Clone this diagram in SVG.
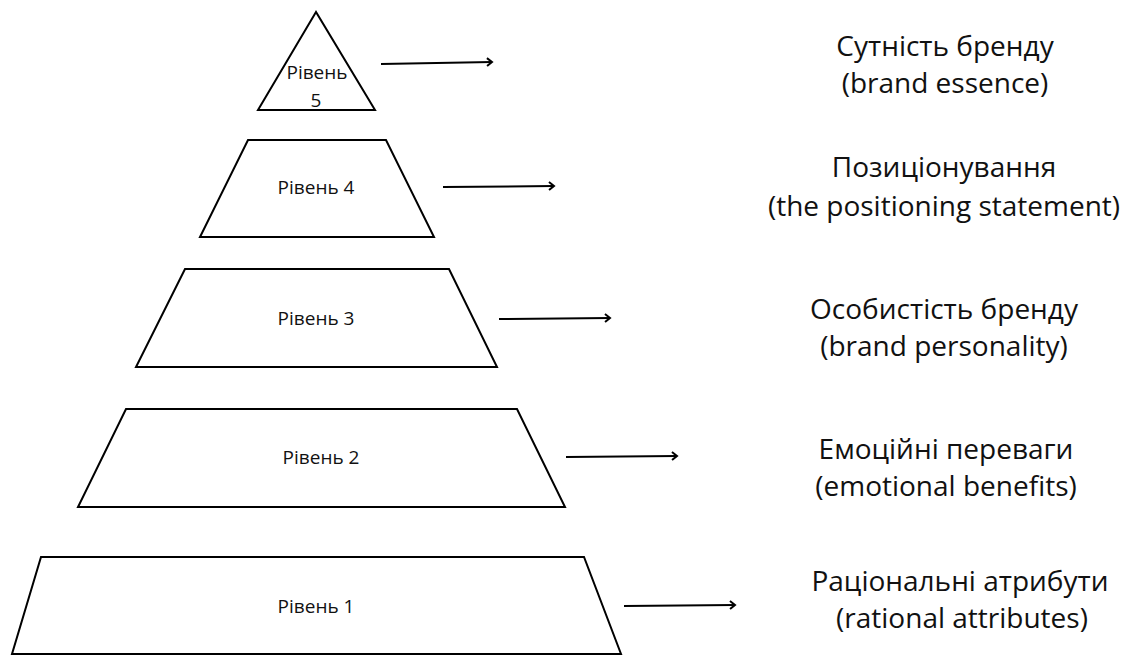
<svg xmlns="http://www.w3.org/2000/svg" width="1129" height="655" viewBox="0 0 1129 655">
<style>
.shape{fill:#fff;stroke:#000;stroke-width:2;stroke-linejoin:miter}
.lbl{font-family:"Open Sans","DejaVu Sans",sans-serif;font-size:19px;fill:#111;text-anchor:middle}
.cap{font-family:"Open Sans","DejaVu Sans",sans-serif;font-size:28px;fill:#111;text-anchor:middle}
.arr{stroke:#000;stroke-width:2;fill:none;marker-end:url(#ah)}
</style>
<defs>
<marker id="ah" markerWidth="10" markerHeight="10" refX="7" refY="5" orient="auto" markerUnits="userSpaceOnUse">
<path d="M2,1 L7,5 L2,9" fill="none" stroke="#000" stroke-width="2"/>
</marker>
</defs>
<rect width="1129" height="655" fill="#fff"/>
<g id="level5">
<polygon class="shape" points="316,12 258,110 375,110"/>
<text class="lbl" x="317" y="79">Рівень</text>
<text class="lbl" x="316" y="107">5</text>
</g>
<g id="level4">
<polygon class="shape" points="248,140 386,140 434,237 200,237"/>
<text class="lbl" x="316" y="194">Рівень 4</text>
</g>
<g id="level3">
<polygon class="shape" points="185,269 449,269 497,367 136,367"/>
<text class="lbl" x="316" y="325">Рівень 3</text>
</g>
<g id="level2">
<polygon class="shape" points="126,409 517,409 565,507 78,507"/>
<text class="lbl" x="321" y="464">Рівень 2</text>
</g>
<g id="level1">
<polygon class="shape" points="41,557 584,557 621,654 12,654"/>
<text class="lbl" x="316" y="613">Рівень 1</text>
</g>
<g id="connectors">
<line class="arr" x1="381" y1="64" x2="492" y2="62"/>
<line class="arr" x1="443" y1="187" x2="554" y2="186"/>
<line class="arr" x1="499" y1="319" x2="610" y2="318"/>
<line class="arr" x1="566" y1="457" x2="677" y2="456"/>
<line class="arr" x1="624" y1="606" x2="735" y2="605"/>
</g>
<g id="cap5">
<text class="cap" x="945" y="56">Сутність бренду</text>
<text class="cap" x="945" y="93">(brand essence)</text>
</g>
<g id="cap4">
<text class="cap" x="944" y="177">Позиціонування</text>
<text class="cap" x="944" y="216">(the positioning statement)</text>
</g>
<g id="cap3">
<text class="cap" x="944" y="319">Особистість бренду</text>
<text class="cap" x="944" y="356">(brand personality)</text>
</g>
<g id="cap2">
<text class="cap" x="946" y="459">Емоційні переваги</text>
<text class="cap" x="946" y="496">(emotional benefits)</text>
</g>
<g id="cap1">
<text class="cap" x="960" y="591">Раціональні атрибути</text>
<text class="cap" x="962" y="628">(rational attributes)</text>
</g>
</svg>
